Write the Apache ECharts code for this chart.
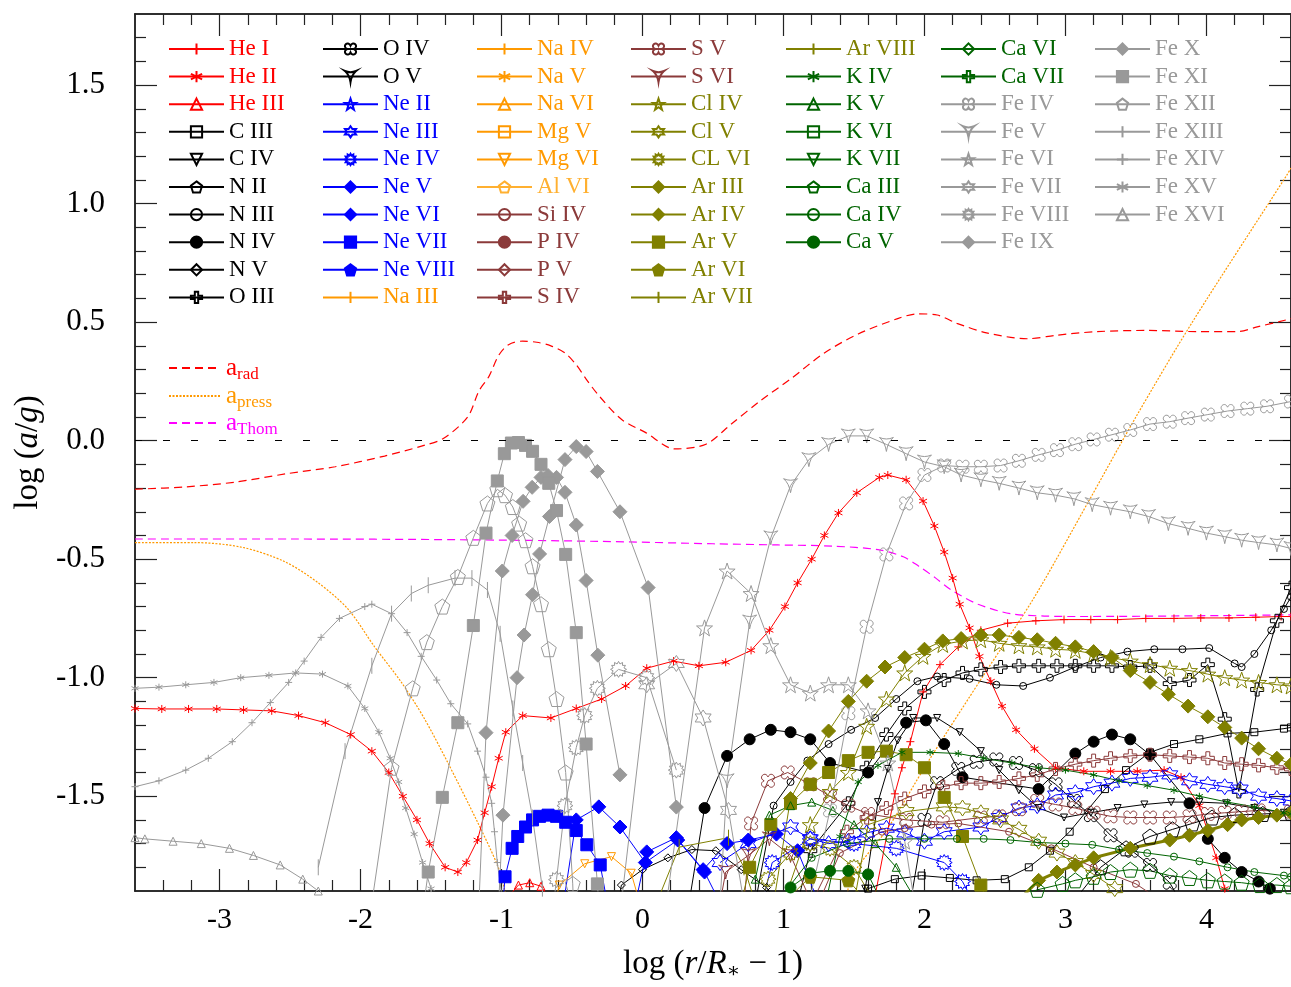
<!DOCTYPE html>
<html>
<head>
<meta charset="utf-8">
<script src="https://cdn.jsdelivr.net/npm/echarts@6/dist/echarts.min.js"></script>
<style>
  html, body { margin: 0; padding: 0; background: #fff; }
  #chart { width: 1291px; height: 987px; }
</style>
</head>
<body>
<div id="chart"></div>
<script>
// ---------- tick values ----------
const xTicks = [-3, -2, -1, 0, 1, 2, 3, 4];
const xMinorTicks = [-3.4, -3.2, -2.8, -2.6, -2.4, -2.2, -1.8, -1.6, -1.4, -1.2, -0.8, -0.6, -0.4, -0.2,
  0.2, 0.4, 0.6, 0.8, 1.2, 1.4, 1.6, 1.8, 2.2, 2.4, 2.6, 2.8, 3.2, 3.4, 3.6, 3.8, 4.2, 4.4];
const yTicks = [-1.5, -1.0, -0.5, 0.0, 0.5, 1.0, 1.5];
const yMinorTicks = [-1.8, -1.7, -1.6, -1.4, -1.3, -1.2, -1.1, -0.9, -0.8, -0.7, -0.6, -0.4, -0.3, -0.2, -0.1,
  0.1, 0.2, 0.3, 0.4, 0.6, 0.7, 0.8, 0.9, 1.1, 1.2, 1.3, 1.4, 1.6, 1.7];

// ---------- accelerations (log a/g vs log(r/R*-1)) ----------
const aRad = [[-3.6,-0.205],[-3.24,-0.195],[-2.89,-0.175],[-2.53,-0.14],[-2.18,-0.11],[-1.83,-0.065],[-1.55,-0.02],
  [-1.41,0.01],[-1.24,0.10],[-1.16,0.21],[-1.09,0.27],[-1.02,0.36],[-0.95,0.405],[-0.85,0.42],[-0.75,0.415],
  [-0.65,0.40],[-0.55,0.37],[-0.47,0.32],[-0.40,0.26],[-0.31,0.19],[-0.15,0.09],[0.02,0.035],[0.23,-0.035],
  [0.45,-0.015],[0.63,0.07],[0.84,0.17],[1.05,0.26],[1.29,0.37],[1.53,0.45],[1.81,0.515],[1.95,0.535],[2.09,0.53],
  [2.23,0.495],[2.44,0.455],[2.73,0.43],[2.94,0.445],[3.22,0.46],[3.58,0.465],[3.93,0.46],[4.22,0.46],[4.36,0.48],
  [4.57,0.51],[4.6,0.515]];
const aPress = [[-3.6,-0.43],[-3.18,-0.43],[-2.84,-0.45],[-2.54,-0.51],[-2.30,-0.60],[-2.09,-0.71],[-1.90,-0.87],
  [-1.71,-1.02],[-1.55,-1.17],[-1.38,-1.36],[-1.17,-1.61],[-1.03,-1.79],[-0.98,-1.89],[-0.95,-2.0],['-','-'],
  [1.44,-2.0],[1.48,-1.845],[1.74,-1.635],[2.02,-1.36],[2.43,-0.98],[2.78,-0.66],[3.17,-0.25],[3.50,0.10],
  [3.90,0.50],[4.57,1.12],[4.6,1.15]];
const aThom = [[-3.6,-0.415],[-2.5,-0.415],[-1.3,-0.418],[-0.3,-0.425],[0.5,-0.435],[0.96,-0.44],[1.35,-0.445],
  [1.67,-0.46],[1.85,-0.49],[1.96,-0.53],[2.08,-0.58],[2.19,-0.63],[2.38,-0.69],[2.61,-0.73],[2.85,-0.74],
  [3.09,-0.742],[4.6,-0.735]];

// ---------- ions ----------
const HeI = [[1.64,-1.95],[1.79,-1.49],[1.84,-1.38],[1.90,-1.27],[1.99,-1.06],[2.11,-0.945],[2.24,-0.87],[2.40,-0.80],
  [2.59,-0.77],[2.79,-0.76],[2.99,-0.755],[3.18,-0.755],[3.37,-0.755],[3.57,-0.75],[3.77,-0.75],[3.96,-0.748],
  [4.16,-0.748],[4.35,-0.745],[4.53,-0.742],[4.6,-0.742]];
const HeII = [[-3.6,-1.13],[-3.41,-1.132],[-3.22,-1.132],[-3.02,-1.132],[-2.83,-1.136],[-2.63,-1.14],[-2.44,-1.16],
  [-2.25,-1.19],[-2.07,-1.24],[-1.92,-1.31],[-1.80,-1.40],[-1.70,-1.50],[-1.60,-1.60],[-1.51,-1.70],[-1.40,-1.80],
  [-1.31,-1.82],[-1.25,-1.78],[-1.17,-1.685],[-1.12,-1.57],[-1.07,-1.46],[-1.02,-1.34],[-0.97,-1.23],[-0.85,-1.16],
  [-0.65,-1.17],[-0.47,-1.13],[-0.29,-1.09],[-0.12,-1.035],[0.03,-0.96],[0.22,-0.93],[0.40,-0.95],[0.59,-0.935],
  [0.77,-0.885],[0.90,-0.80],[1.01,-0.70],[1.10,-0.60],[1.20,-0.50],[1.29,-0.40],[1.39,-0.305],[1.52,-0.22],
  [1.68,-0.155],[1.74,-0.145],[1.87,-0.165],[1.99,-0.255],[2.07,-0.36],[2.14,-0.47],[2.20,-0.58],[2.25,-0.69],
  [2.32,-0.79],[2.39,-0.91],[2.47,-1.015],[2.55,-1.12],[2.65,-1.22],[2.78,-1.30],[2.93,-1.38],[3.13,-1.395],
  [3.32,-1.395],[3.51,-1.395],[3.70,-1.39],[3.82,-1.42],[3.95,-1.54],[4.07,-1.76],[4.13,-1.89],[4.16,-1.95]];
const HeIII = [[-0.99,-1.95],[-0.88,-1.875],[-0.80,-1.865],[-0.72,-1.88],[-0.64,-1.95]];
const CIII = [[1.55,-1.95],[1.60,-1.89],[1.79,-1.85],[1.98,-1.835],[2.18,-1.845],[2.37,-1.855],[2.57,-1.85],
  [2.74,-1.80],[2.89,-1.73],[3.03,-1.65],[3.28,-1.47],[3.43,-1.39],[3.60,-1.315],[3.77,-1.28],[3.95,-1.26],
  [4.15,-1.235],[4.34,-1.23],[4.55,-1.215],[4.6,-1.21]];
const CIV = [[1.55,-1.95],[1.58,-1.89],[1.67,-1.525],[1.74,-1.385],[1.81,-1.265],[1.92,-1.17],[2.09,-1.17],
  [2.25,-1.23],[2.40,-1.31],[2.53,-1.39],[2.67,-1.475],[2.81,-1.55],[2.99,-1.59],[3.18,-1.57],[3.37,-1.55],
  [3.56,-1.535],[3.75,-1.525],[3.95,-1.525],[4.14,-1.53],[4.34,-1.55],[4.55,-1.57],[4.6,-1.57]];
const NII = [[3.05,-1.95],[3.25,-1.80],[3.43,-1.72],[3.60,-1.67],[3.76,-1.64],[3.90,-1.615],[4.04,-1.59],
  [4.2,-1.58],[4.4,-1.575],[4.6,-1.57]];
const NIII = [[0.80,-1.95],[0.93,-1.54],[1.05,-1.44],[1.17,-1.35],[1.32,-1.28],[1.48,-1.22],[1.65,-1.17],
  [1.80,-1.09],[1.95,-1.015],[2.09,-0.995],[2.32,-1.005],[2.51,-1.03],[2.70,-1.035],[2.89,-1.0],[3.07,-0.955],
  [3.25,-0.915],[3.44,-0.89],[3.63,-0.88],[3.83,-0.88],[4.02,-0.875],[4.20,-0.94],[4.25,-0.955],[4.34,-0.90],
  [4.46,-0.80],[4.55,-0.71],[4.6,-0.66]];
const NIV = [[0.33,-1.95],[0.44,-1.55],[0.60,-1.33],[0.76,-1.26],[0.91,-1.22],[1.05,-1.23],[1.19,-1.26],
  [1.33,-1.36],[1.60,-1.40],[1.87,-1.19],[2.01,-1.18],[2.14,-1.28],[2.27,-1.42],[2.81,-1.47],[3.07,-1.32],
  [3.20,-1.27],[3.33,-1.24],[3.46,-1.26],[3.60,-1.325],[3.88,-1.53],[4.01,-1.68],[4.13,-1.76],[4.25,-1.82],
  [4.37,-1.86],[4.45,-1.89],[4.55,-1.95]];
const NV = [[-0.17,-1.95],[-0.15,-1.875],[0.0,-1.81],[0.18,-1.76],[0.35,-1.725],[0.52,-1.73],[0.70,-1.81],
  [0.88,-1.885],[0.95,-1.95]];
const OIII = [[1.10,-1.95],[1.19,-1.73],[1.46,-1.53],[1.59,-1.38],[1.73,-1.24],[1.86,-1.13],[2.0,-1.06],
  [2.14,-1.01],[2.27,-0.98],[2.40,-0.965],[2.54,-0.955],[2.67,-0.95],[2.81,-0.95],[2.94,-0.95],[3.07,-0.95],
  [3.20,-0.95],[3.33,-0.95],[3.46,-0.955],[3.60,-0.95],[3.74,-1.025],[3.88,-1.01],[4.01,-0.945],[4.13,-1.175],
  [4.23,-1.48],[4.36,-1.05],[4.50,-0.76],[4.6,-0.62]];
const OIV = [[1.90,-1.95],[2.0,-1.60],[2.09,-1.445],[2.24,-1.385],[2.37,-1.355],[2.51,-1.345],[2.65,-1.36],
  [2.79,-1.39],[2.93,-1.45],[3.06,-1.52],[3.18,-1.58],[3.32,-1.665],[3.47,-1.73],[3.60,-1.79],[3.74,-1.865],
  [3.82,-1.95]];
const OV = [];
const NeII = [];
const NeIII = [[0.55,-1.78],[0.75,-1.70],[1.05,-1.63],[1.19,-1.68],[1.32,-1.70],[1.46,-1.69],[1.59,-1.655],
  [1.73,-1.635],[1.86,-1.655],[2.0,-1.69],[2.14,-1.65],[2.40,-1.63],[2.53,-1.59],[2.67,-1.55],[2.80,-1.54],
  [2.93,-1.495],[3.07,-1.485],[3.20,-1.46],[3.33,-1.445],[3.46,-1.425],[3.60,-1.42],[3.74,-1.41],[3.88,-1.435],
  [4.01,-1.45],[4.13,-1.46],[4.24,-1.47],[4.37,-1.50],[4.50,-1.51],[4.6,-1.52]];
const NeIV = [[0.85,-1.95],[0.92,-1.78],[1.19,-1.68],[1.5,-1.70],[1.8,-1.72],[2.14,-1.78],[2.27,-1.86],[2.35,-1.95]];
const NeV = [[-0.05,-1.95],[0.03,-1.735],[0.24,-1.675],[0.43,-1.81],[0.60,-1.70],[0.75,-1.685],[0.95,-1.66],
  [1.1,-1.73],[1.25,-1.95]];
const NeVI = [[-0.56,-1.95],[-0.47,-1.60],[-0.31,-1.545],[-0.16,-1.63],[0.02,-1.78],[0.25,-1.685],[0.44,-1.82],
  [0.55,-1.95]];
const NeVII = [[-0.99,-1.95],[-0.975,-1.84],[-0.925,-1.72],[-0.885,-1.67],[-0.83,-1.63],[-0.78,-1.60],
  [-0.73,-1.585],[-0.67,-1.58],[-0.61,-1.585],[-0.545,-1.61],[-0.47,-1.645],[-0.395,-1.705],[-0.30,-1.79],
  [-0.25,-1.95]];
const NeVIII = [];
const NaIII = [];
const NaIV = [];
const NaV = [];
const NaVI = [];
const MgV = [];
const MgVI = [[-0.62,-1.95],[-0.59,-1.875],[-0.41,-1.785],[-0.22,-1.755],[-0.08,-1.825],[-0.02,-1.95]];
const AlVI = [];
const SiIV = [[1.25,-1.95],[1.4,-1.74],[1.7,-1.65],[1.86,-1.635],[2.05,-1.62],[2.24,-1.615],[2.6,-1.65],
  [2.9,-1.72],[3.2,-1.80],[3.5,-1.87],[3.7,-1.95]];
const PIV = [];
const PV = [];
const SIV = [[1.2,-1.95],[1.45,-1.65],[1.59,-1.59],[1.73,-1.55],[1.86,-1.51],[2.0,-1.48],[2.13,-1.46],
  [2.26,-1.445],[2.40,-1.445],[2.53,-1.44],[2.67,-1.425],[2.80,-1.41],[2.93,-1.385],[3.07,-1.365],[3.20,-1.35],
  [3.32,-1.34],[3.46,-1.33],[3.60,-1.325],[3.74,-1.33],[3.88,-1.335],[4.01,-1.34],[4.13,-1.36],[4.25,-1.365],
  [4.37,-1.37],[4.50,-1.38],[4.6,-1.385]];
const SV = [[0.72,-1.95],[0.77,-1.615],[0.89,-1.435],[1.03,-1.40],[1.19,-1.45],[1.33,-1.50],[1.46,-1.54],
  [1.60,-1.575],[1.87,-1.60],[2.13,-1.61],[2.40,-1.59],[2.53,-1.585],[2.67,-1.555],[2.80,-1.52],[2.93,-1.535],
  [3.07,-1.55],[3.20,-1.57],[3.32,-1.585],[3.46,-1.59],[3.60,-1.59],[3.74,-1.59],[3.88,-1.585],[4.01,-1.575],
  [4.13,-1.57],[4.25,-1.565],[4.37,-1.56],[4.6,-1.565]];
const SVI = [[0.55,-1.95],[0.59,-1.82],[0.75,-1.75],[0.9,-1.68],[1.05,-1.75],[1.2,-1.95]];
const ClIV = [[1.0,-1.95],[1.19,-1.62],[1.33,-1.48],[1.46,-1.40],[1.59,-1.205],[1.73,-1.09],[1.86,-0.98],
  [1.99,-0.91],[2.13,-0.86],[2.27,-0.845],[2.40,-0.84],[2.53,-0.855],[2.67,-0.865],[2.80,-0.87],[2.93,-0.88],
  [3.07,-0.885],[3.20,-0.90],[3.32,-0.915],[3.46,-0.93],[3.60,-0.945],[3.74,-0.96],[3.88,-0.97],[4.01,-0.985],
  [4.13,-1.0],[4.25,-1.01],[4.37,-1.02],[4.50,-1.03],[4.6,-1.035]];
const ClV = [[1.5,-1.95],[1.6,-1.62],[1.87,-1.565],[2.14,-1.545],[2.27,-1.55],[2.40,-1.57],[2.54,-1.60],
  [2.67,-1.64],[2.81,-1.69],[2.94,-1.74],[3.07,-1.78],[3.20,-1.83],[3.35,-1.89],[3.45,-1.95]];
const ClVI = [[0.85,-1.95],[0.89,-1.85],[1.05,-1.74],[1.19,-1.70],[1.33,-1.72],[1.5,-1.80],[1.65,-1.95]];
const ArIII = [[2.65,-1.95],[2.81,-1.855],[2.94,-1.82],[3.07,-1.79],[3.20,-1.76],[3.46,-1.72],[3.74,-1.685],
  [3.88,-1.665],[4.01,-1.645],[4.15,-1.62],[4.25,-1.60],[4.37,-1.59],[4.50,-1.58],[4.6,-1.57]];
const ArIV = [[0.93,-1.95],[1.05,-1.51],[1.19,-1.36],[1.32,-1.225],[1.46,-1.10],[1.59,-1.015],[1.72,-0.955],
  [1.86,-0.915],[2.0,-0.88],[2.13,-0.845],[2.26,-0.835],[2.40,-0.82],[2.53,-0.82],[2.67,-0.83],[2.80,-0.84],
  [2.93,-0.855],[3.07,-0.87],[3.20,-0.89],[3.33,-0.915],[3.46,-0.97],[3.60,-1.02],[3.73,-1.07],[3.87,-1.12],
  [4.01,-1.165],[4.13,-1.21],[4.25,-1.255],[4.37,-1.30],[4.50,-1.34],[4.6,-1.365]];
const ArV = [[0.70,-1.95],[0.76,-1.80],[0.91,-1.62],[1.05,-1.53],[1.19,-1.45],[1.32,-1.40],[1.46,-1.35],
  [1.60,-1.315],[1.73,-1.31],[1.87,-1.325],[2.0,-1.38],[2.14,-1.505],[2.27,-1.67],[2.40,-1.875],[2.45,-1.95]];
const ArVI = [[1.0,-1.95],[1.19,-1.84],[1.46,-1.855],[1.6,-1.95]];
const ArVII = [[0.10,-1.95],[0.26,-1.715],[0.61,-1.675],[0.72,-1.80],[0.80,-1.95]];
const ArVIII = [];
const KIV = [[1.3,-1.95],[1.40,-1.67],[1.53,-1.44],[1.67,-1.37],[1.84,-1.315],[2.04,-1.315],[2.24,-1.32],
  [2.42,-1.34],[2.62,-1.36],[2.81,-1.38],[3.0,-1.39],[3.20,-1.41],[3.38,-1.435],[3.58,-1.455],[3.77,-1.475],
  [3.95,-1.50],[4.15,-1.525],[4.34,-1.545],[4.55,-1.57],[4.6,-1.575]];
const KV = [[0.80,-1.85],[0.90,-1.58],[1.05,-1.54],[1.20,-1.525],[1.35,-1.56],[1.50,-1.62],[1.65,-1.70],
  [1.80,-1.80],[1.95,-1.95]];
const KVI = [];
const KVII = [];
const CaIII = [[2.55,-1.95],[2.80,-1.895],[2.98,-1.87],[3.07,-1.855],[3.20,-1.84],[3.32,-1.82],[3.46,-1.81],
  [3.60,-1.815],[3.74,-1.835],[3.88,-1.845],[4.01,-1.855],[4.13,-1.86],[4.25,-1.865],[4.38,-1.875],[4.50,-1.875],
  [4.6,-1.88]];
const CaIV = [[0.95,-1.95],[1.2,-1.76],[1.45,-1.70],[1.75,-1.68],[2.0,-1.68],[2.23,-1.68],[2.42,-1.68],
  [2.61,-1.685],[2.80,-1.695],[3.0,-1.70],[3.19,-1.705],[3.38,-1.725],[3.58,-1.74],[3.77,-1.755],[3.95,-1.775],
  [4.15,-1.80],[4.34,-1.82],[4.55,-1.835],[4.6,-1.84]];
const CaV = [[0.95,-1.95],[1.05,-1.885],[1.19,-1.825],[1.33,-1.815],[1.46,-1.815],[1.60,-1.83],[1.70,-1.95]];
const CaVI = [];
const CaVII = [];
const FeIV = [[1.18,-1.95],[1.33,-1.56],[1.46,-1.15],[1.59,-0.785],[1.73,-0.48],[1.87,-0.265],[2.0,-0.145],
  [2.14,-0.105],[2.27,-0.11],[2.40,-0.11],[2.54,-0.105],[2.67,-0.085],[2.81,-0.06],[2.94,-0.04],[3.07,-0.015],
  [3.20,0.005],[3.33,0.025],[3.46,0.045],[3.60,0.07],[3.74,0.08],[3.87,0.095],[4.01,0.11],[4.15,0.125],
  [4.29,0.135],[4.43,0.145],[4.6,0.165]];
const FeV = [[0.55,-1.95],[0.60,-1.435],[0.76,-0.765],[0.91,-0.41],[1.05,-0.19],[1.18,-0.08],[1.32,-0.016],
  [1.46,0.02],[1.59,0.02],[1.73,-0.016],[1.87,-0.055],[2.0,-0.09],[2.14,-0.11],[2.26,-0.145],[2.40,-0.165],
  [2.53,-0.18],[2.67,-0.20],[2.80,-0.22],[2.93,-0.23],[3.06,-0.245],[3.19,-0.27],[3.32,-0.285],[3.46,-0.30],
  [3.59,-0.32],[3.73,-0.35],[3.87,-0.37],[4.0,-0.39],[4.13,-0.405],[4.25,-0.42],[4.37,-0.43],[4.50,-0.44],
  [4.6,-0.455]];
const FeVI = [[0.17,-1.95],[0.44,-0.79],[0.60,-0.55],[0.77,-0.645],[0.91,-0.865],[1.05,-1.03],[1.19,-1.065],
  [1.32,-1.03],[1.46,-1.03],[1.60,-1.14],[1.74,-1.36],[1.86,-1.69],[1.93,-1.95]];
const FeVII = [[-0.15,-1.95],[0.03,-1.03],[0.24,-0.94],[0.43,-1.17],[0.61,-1.56],[0.72,-1.95]];
const FeVIII = [[-0.63,-1.95],[-0.61,-1.852],[-0.55,-1.54],[-0.47,-1.295],[-0.41,-1.16],[-0.32,-1.045],
  [-0.17,-0.965],[0.03,-1.0],[0.24,-1.39]];
const FeIX = [[-1.02,-1.95],[-0.99,-1.58],[-0.89,-1.0],[-0.84,-0.82],[-0.78,-0.65],[-0.73,-0.478],[-0.66,-0.32],
  [-0.55,-0.08],[-0.47,-0.025],[-0.40,-0.046],[-0.32,-0.13],[-0.16,-0.30],[0.04,-0.62],[0.24,-1.546]];
const FeX = [[-1.16,-1.95],[-1.11,-1.232],[-0.995,-0.55],[-0.925,-0.40],[-0.847,-0.256],[-0.783,-0.197],
  [-0.72,-0.155],[-0.67,-0.147],[-0.61,-0.155],[-0.55,-0.218],[-0.47,-0.356],[-0.40,-0.59],[-0.317,-0.905],
  [-0.16,-1.41]];
const FeXI = [[-1.55,-1.95],[-1.52,-1.82],[-1.42,-1.505],[-1.31,-1.19],[-1.20,-0.78],[-1.11,-0.39],[-1.03,-0.17],
  [-0.98,-0.055],[-0.93,-0.01],[-0.88,-0.008],[-0.83,-0.02],[-0.78,-0.045],[-0.72,-0.10],[-0.665,-0.18],
  [-0.61,-0.295],[-0.545,-0.48],[-0.47,-0.81],[-0.40,-1.28],[-0.32,-1.87],[-0.31,-1.95]];
const FeXII = [[-1.92,-1.95],[-1.78,-1.38],[-1.63,-1.045],[-1.53,-0.85],[-1.42,-0.70],[-1.31,-0.575],
  [-1.20,-0.41],[-1.10,-0.265],[-1.03,-0.205],[-0.975,-0.23],[-0.92,-0.28],[-0.875,-0.35],[-0.83,-0.42],
  [-0.78,-0.53],[-0.72,-0.69],[-0.665,-0.88],[-0.61,-1.09],[-0.545,-1.40],[-0.495,-1.87],[-0.49,-1.95]];
const FeXIII = [[-2.30,-1.80],[-2.11,-1.31],[-1.92,-0.95],[-1.78,-0.73],[-1.64,-0.645],[-1.52,-0.61],
  [-1.33,-0.58],[-1.21,-0.58],[-1.10,-0.63],[-1.01,-0.815],[-0.92,-1.13],[-0.85,-1.36],[-0.78,-1.59],
  [-0.71,-1.89],[-0.70,-1.95]];
const FeXIV = [[-3.6,-1.46],[-3.43,-1.435],[-3.24,-1.39],[-3.08,-1.34],[-2.91,-1.27],[-2.77,-1.19],[-2.64,-1.105],
  [-2.51,-1.02],[-2.40,-0.93],[-2.28,-0.83],[-2.15,-0.75],[-1.97,-0.70],[-1.92,-0.69],[-1.78,-0.73],[-1.67,-0.81],
  [-1.57,-0.91],[-1.46,-1.01],[-1.36,-1.11],[-1.24,-1.195],[-1.17,-1.31],[-1.11,-1.42],[-1.07,-1.53],
  [-1.05,-1.65],[-1.03,-1.78],[-1.0,-1.91]];
const FeXV = [[-3.6,-1.045],[-3.43,-1.04],[-3.24,-1.03],[-3.04,-1.02],[-2.85,-1.00],[-2.65,-0.99],[-2.46,-0.98],
  [-2.27,-0.985],[-2.09,-1.035],[-1.97,-1.13],[-1.87,-1.23],[-1.79,-1.34],[-1.73,-1.44],[-1.68,-1.55],
  [-1.62,-1.66],[-1.56,-1.78],[-1.50,-1.89],[-1.49,-1.95]];
const FeXVI = [[-3.6,-1.675],[-3.53,-1.68],[-3.33,-1.69],[-3.13,-1.70],[-2.93,-1.72],[-2.76,-1.75],[-2.57,-1.79],
  [-2.41,-1.85],[-2.30,-1.90],[-2.25,-1.95]];

// ---------- legend columns ----------
const legendColumns = [
  ['He I','He II','He III','C III','C IV','N II','N III','N IV','N V','O III'],
  ['O IV','O V','Ne II','Ne III','Ne IV','Ne V','Ne VI','Ne VII','Ne VIII','Na III'],
  ['Na IV','Na V','Na VI','Mg V','Mg VI','Al VI','Si IV','P IV','P V','S IV'],
  ['S V','S VI','Cl IV','Cl V','CL VI','Ar III','Ar IV','Ar V','Ar VI','Ar VII'],
  ['Ar VIII','K IV','K V','K VI','K VII','Ca III','Ca IV','Ca V'],
  ['Ca VI','Ca VII','Fe IV','Fe V','Fe VI','Fe VII','Fe VIII','Fe IX'],
  ['Fe X','Fe XI','Fe XII','Fe XIII','Fe XIV','Fe XV','Fe XVI']
];

// ---------- styles ----------
const SERIF = "'Liberation Serif', 'DejaVu Serif', serif";
const RED = '#ff0000', BLACK = '#000000', BLUE = '#0000ff', ORANGE = '#ff9900', LORANGE = '#ffb030',
      BROWN = '#8b3a3a', OLIVE = '#808000', GREEN = '#006400', GREY = '#999999', MAGENTA = '#ff00ff';

function poly(pts) {
  return 'path://M' + pts.map(p => p[0].toFixed(2) + ',' + p[1].toFixed(2)).join('L') + 'Z';
}
function star(n, R, r) {
  const pts = [];
  for (let i = 0; i < 2 * n; i++) {
    const a = -Math.PI / 2 + i * Math.PI / n, rad = i % 2 ? r : R;
    pts.push([rad * Math.cos(a), rad * Math.sin(a)]);
  }
  return pts;
}
function ngon(n, R) {
  const pts = [];
  for (let i = 0; i < n; i++) {
    const a = -Math.PI / 2 + i * 2 * Math.PI / n;
    pts.push([R * Math.cos(a), R * Math.sin(a)]);
  }
  return pts;
}
const SYM = {
  plus: 'path://M0,-10L0,10M-10,0L10,0',
  aster: 'path://M0,-10L0,10M-8.66,-5L8.66,5M-8.66,5L8.66,-5',
  tri: 'triangle',
  triDown: 'path://M-10,-8.66L10,-8.66L0,8.66Z',
  square: 'rect',
  circle: 'circle',
  diamond: 'diamond',
  pent: poly(ngon(5, 10)),
  greek: 'path://M-3,-10L3,-10L3,-3L10,-3L10,3L3,3L3,10L-3,10L-3,3L-10,3L-10,-3L-3,-3Z',
  quatre: 'path://M0,-4C3,-11 11,-3 4,0C11,3 3,11 0,4C-3,11 -11,3 -4,0C-11,-3 -3,-11 0,-4Z',
  concave: 'path://M-10,-8Q0,-4 10,-8Q2,-2 0,10Q-2,-2 -10,-8Z',
  star5: poly(star(5, 10, 4)),
  star6: poly(star(6, 10, 5.8)),
  gear: poly(star(12, 10, 7)),
  thinDia: 'path://M0,-10L4.5,0L0,10L-4.5,0Z',
  wideDia: 'path://M-10,0L0,-6L10,0L0,6Z',
  vbar: 'path://M0,-10L0,10M-3,10L-3,10M3,10L3,10'
};

// name, data, colour, symbol, size, filled, line width
const ionTable = [
  ['He I', HeI, RED, 'plus', 8, false],
  ['He II', HeII, RED, 'aster', 8, false],
  ['He III', HeIII, RED, 'tri', 8, false],
  ['C III', CIII, BLACK, 'square', 7, false],
  ['C IV', CIV, BLACK, 'triDown', 7, false],
  ['N II', NII, BLACK, 'pent', 15, false],
  ['N III', NIII, BLACK, 'circle', 7, false],
  ['N IV', NIV, BLACK, 'circle', 11, true],
  ['N V', NV, BLACK, 'diamond', 8, false],
  ['O III', OIII, BLACK, 'greek', 13, false],
  ['O IV', OIV, BLACK, 'quatre', 13, false],
  ['O V', OV, BLACK, 'concave', 14, false],
  ['Ne II', NeII, BLUE, 'star5', 16, false],
  ['Ne III', NeIII, BLUE, 'star6', 16, false],
  ['Ne IV', NeIV, BLUE, 'gear', 16, false],
  ['Ne V', NeV, BLUE, 'thinDia', 14, true],
  ['Ne VI', NeVI, BLUE, 'wideDia', 14, true],
  ['Ne VII', NeVII, BLUE, 'square', 12, true],
  ['Ne VIII', NeVIII, BLUE, 'pent', 13, true],
  ['Na III', NaIII, ORANGE, 'vbar', 16, false],
  ['Na IV', NaIV, ORANGE, 'plus', 7, false],
  ['Na V', NaV, ORANGE, 'aster', 7, false],
  ['Na VI', NaVI, ORANGE, 'tri', 8, false],
  ['Mg V', MgV, ORANGE, 'square', 7, false],
  ['Mg VI', MgVI, ORANGE, 'triDown', 8, false],
  ['Al VI', AlVI, LORANGE, 'pent', 15, false],
  ['Si IV', SiIV, BROWN, 'circle', 7, false],
  ['P IV', PIV, BROWN, 'circle', 11, true],
  ['P V', PV, BROWN, 'diamond', 8, false],
  ['S IV', SIV, BROWN, 'greek', 13, false],
  ['S V', SV, BROWN, 'quatre', 13, false],
  ['S VI', SVI, BROWN, 'concave', 14, false],
  ['Cl IV', ClIV, OLIVE, 'star5', 16, false],
  ['Cl V', ClV, OLIVE, 'star6', 16, false],
  ['CL VI', ClVI, OLIVE, 'gear', 16, false],
  ['Ar III', ArIII, OLIVE, 'thinDia', 14, true, 3],
  ['Ar IV', ArIV, OLIVE, 'wideDia', 14, true],
  ['Ar V', ArV, OLIVE, 'square', 12, true],
  ['Ar VI', ArVI, OLIVE, 'pent', 13, true],
  ['Ar VII', ArVII, OLIVE, 'vbar', 16, false],
  ['Ar VIII', ArVIII, OLIVE, 'plus', 7, false],
  ['K IV', KIV, GREEN, 'aster', 7, false],
  ['K V', KV, GREEN, 'tri', 8, false],
  ['K VI', KVI, GREEN, 'square', 7, false],
  ['K VII', KVII, GREEN, 'triDown', 8, false],
  ['Ca III', CaIII, GREEN, 'pent', 15, false],
  ['Ca IV', CaIV, GREEN, 'circle', 7, false],
  ['Ca V', CaV, GREEN, 'circle', 11, true],
  ['Ca VI', CaVI, GREEN, 'diamond', 8, false],
  ['Ca VII', CaVII, GREEN, 'greek', 13, false],
  ['Fe IV', FeIV, GREY, 'quatre', 13, false],
  ['Fe V', FeV, GREY, 'concave', 14, false],
  ['Fe VI', FeVI, GREY, 'star5', 16, false],
  ['Fe VII', FeVII, GREY, 'star6', 16, false],
  ['Fe VIII', FeVIII, GREY, 'gear', 16, false],
  ['Fe IX', FeIX, GREY, 'thinDia', 14, true],
  ['Fe X', FeX, GREY, 'wideDia', 14, true],
  ['Fe XI', FeXI, GREY, 'square', 12, true],
  ['Fe XII', FeXII, GREY, 'pent', 15, false],
  ['Fe XIII', FeXIII, GREY, 'vbar', 16, false],
  ['Fe XIV', FeXIV, GREY, 'plus', 7, false],
  ['Fe XV', FeXV, GREY, 'aster', 7, false],
  ['Fe XVI', FeXVI, GREY, 'tri', 8, false]
];
const colourOf = {};
ionTable.forEach(r => { colourOf[r[0]] = r[2]; });

// ---------- series ----------
const series = [];
series.push({
  type: 'line', name: 'a_rad', data: aRad, symbol: 'none', smooth: 0.3,
  lineStyle: { color: RED, width: 1.2, type: [8, 5] }, itemStyle: { color: RED },
  markLine: {
    silent: true, symbol: 'none', label: { show: false },
    lineStyle: { color: '#000', width: 1.2, type: [7, 21] },
    data: [{ yAxis: 0 }]
  }
});
series.push({
  type: 'line', name: 'a_press', data: aPress, symbol: 'none', smooth: 0.3,
  lineStyle: { color: ORANGE, width: 1.2, type: [2, 1.5] }, itemStyle: { color: ORANGE }
});
series.push({
  type: 'line', name: 'a_Thom', data: aThom, symbol: 'none', smooth: 0.3,
  lineStyle: { color: MAGENTA, width: 1.2, type: [8, 5] }, itemStyle: { color: MAGENTA }
});
ionTable.forEach(([name, data, col, sym, size, filled, lw]) => {
  series.push({
    type: 'line', name, data,
    symbol: SYM[sym], symbolSize: size, showSymbol: true,
    lineStyle: { color: col, width: lw || 1 },
    itemStyle: { color: filled ? col : 'rgba(0,0,0,0)', borderColor: col, borderWidth: 1 }
  });
});

// ---------- legends ----------
const legendLeft = [163, 317, 471, 625, 780, 935, 1089];
const legends = legendColumns.map((names, i) => ({
  orient: 'vertical', left: legendLeft[i], top: 32,
  itemWidth: 55, itemHeight: 14, itemGap: 3.6, itemTextGap: 17,
  selectedMode: false, inactiveColor: '#ccc',
  textStyle: { fontFamily: SERIF, fontSize: 23, lineHeight: 24 },
  data: names.map(n => ({ name: n, textStyle: { color: colourOf[n] } }))
}));
const accelLegend = [['a_rad', 'rad', RED, 348], ['a_press', 'press', ORANGE, 376], ['a_Thom', 'Thom', MAGENTA, 403]];
accelLegend.forEach(([name, sub, col, top]) => {
  legends.push({
    orient: 'vertical', left: 163, top,
    itemWidth: 52, itemHeight: 14, itemTextGap: 17,
    selectedMode: false,
    itemStyle: { opacity: 0 },
    textStyle: {
      fontFamily: SERIF, color: col,
      rich: {
        m: { fontFamily: SERIF, fontSize: 25, lineHeight: 26, color: col },
        s: { fontFamily: SERIF, fontSize: 17, lineHeight: 17, padding: [13, 0, 0, 0], color: col }
      }
    },
    formatter: () => '{m|a}{s|' + sub + '}',
    data: [{ name }]
  });
});

// ---------- axes ----------
const AXCOL = '#222';
function xAxis(position, ticks, len, withLabels) {
  const ax = {
    type: 'value', min: -3.6, max: 4.6, position,
    axisLine: { show: true, onZero: false, lineStyle: { color: AXCOL, width: 1.5 } },
    axisTick: { show: true, inside: true, length: len, customValues: ticks, lineStyle: { color: AXCOL, width: 1.2 } },
    axisLabel: { show: false },
    splitLine: { show: false }
  };
  if (withLabels) {
    ax.axisLabel = {
      show: true, customValues: xTicks, margin: 14,
      fontFamily: SERIF, fontSize: 30, color: '#000',
      formatter: v => String(Math.round(v))
    };
    ax.name = '{n|log (}{i|r}{n|/}{i|R}{sub|\u2217}{n| \u2212 1)}';
    ax.nameLocation = 'middle';
    ax.nameGap = 55;
    ax.nameTextStyle = {
      fontFamily: SERIF, fontSize: 33, color: '#000',
      rich: {
        n: { fontFamily: SERIF, fontSize: 33, lineHeight: 36, color: '#000' },
        i: { fontFamily: SERIF, fontSize: 33, lineHeight: 36, fontStyle: 'italic', color: '#000' },
        sub: { fontFamily: SERIF, fontSize: 20, lineHeight: 20, padding: [16, 0, 0, 0], color: '#000' }
      }
    };
  }
  return ax;
}
function yAxis(position, ticks, len, withLabels) {
  const ax = {
    type: 'value', min: -1.9, max: 1.8, position,
    axisLine: { show: true, onZero: false, lineStyle: { color: AXCOL, width: 1.5 } },
    axisTick: { show: true, inside: true, length: len, customValues: ticks, lineStyle: { color: AXCOL, width: 1.2 } },
    axisLabel: { show: false },
    splitLine: { show: false }
  };
  if (withLabels) {
    ax.axisLabel = {
      show: true, customValues: yTicks, margin: 30,
      fontFamily: SERIF, fontSize: 31, color: '#000',
      formatter: v => v.toFixed(1)
    };
    ax.name = '{n|log (}{i|a}{n|/}{i|g}{n|)}';
    ax.nameLocation = 'middle';
    ax.nameRotate = 90;
    ax.nameGap = 90;
    ax.nameTextStyle = {
      fontFamily: SERIF, fontSize: 33, color: '#000',
      rich: {
        n: { fontFamily: SERIF, fontSize: 33, color: '#000' },
        i: { fontFamily: SERIF, fontSize: 33, fontStyle: 'italic', color: '#000' }
      }
    };
  }
  return ax;
}

const option = {
  animation: false,
  backgroundColor: '#fff',
  grid: { left: 135, top: 14, width: 1160, height: 883, containLabel: false },
  xAxis: [
    xAxis('bottom', xTicks, 22, true),
    xAxis('bottom', xMinorTicks, 11, false),
    xAxis('top', xTicks, 22, false),
    xAxis('top', xMinorTicks, 11, false)
  ],
  yAxis: [
    yAxis('left', yTicks, 22, true),
    yAxis('left', yMinorTicks, 11, false),
    yAxis('right', yTicks, 22, false),
    yAxis('right', yMinorTicks, 11, false)
  ],
  legend: legends,
  series
};

const chart = echarts.init(document.getElementById('chart'), null, { renderer: 'canvas' });
chart.setOption(option);
</script>
</body>
</html>
